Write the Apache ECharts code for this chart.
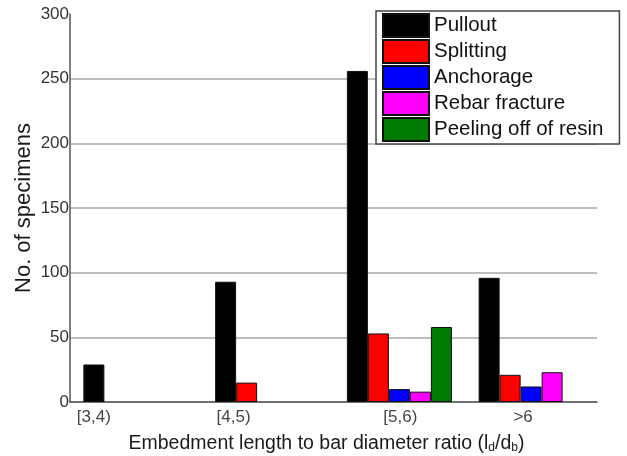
<!DOCTYPE html>
<html>
<head>
<meta charset="utf-8">
<script src="https://cdn.jsdelivr.net/npm/echarts@6/dist/echarts.min.js"></script>
<style>
  html, body { margin: 0; padding: 0; background: #fff; }
  #chart { width: 627px; height: 456px; }
</style>
</head>
<body>
<div id="chart"></div>
<script>
// Failure modes counted per embedment-length range
const categories = ['[3,4)', '[4,5)', '[5,6)', '>6'];
const seriesNames = ['Pullout', 'Splitting', 'Anchorage', 'Rebar fracture', 'Peeling off of resin'];
const pullout   = [29, 93, 256, 96];
const splitting = [0, 15, 53, 21];
const anchorage = [0, 0, 10, 12];
const fracture  = [0, 0, 8, 23];
const peeling   = [0, 0, 58, 0];
const yTicks = [0, 50, 100, 150, 200, 250, 300];

const seriesData = [pullout, splitting, anchorage, fracture, peeling];
const colors = ['#000000', '#ff0000', '#0000ff', '#ff00ff', '#007a00'];

// horizontal shift of each category label (px, negative = left)
const labelShift = [-42, -34, 1, -8];

const rich = {};
categories.forEach((c, i) => {
  const s = labelShift[i];
  rich['c' + i] = {
    fontSize: 17,
    color: '#444',
    fontFamily: 'Liberation Sans',
    padding: s < 0 ? [0, -2 * s, 0, 0] : [0, 0, 0, 2 * s]
  };
});

const chart = echarts.init(document.getElementById('chart'), null, { renderer: 'canvas' });

chart.setOption({
  backgroundColor: '#ffffff',
  animation: false,
  textStyle: { fontFamily: 'Liberation Sans' },
  grid: { left: 70, right: 30, top: 14, bottom: 54, containLabel: false, outerBoundsMode: 'none' },
  legend: {
    data: seriesNames,
    orient: 'vertical',
    left: 376,
    top: 11,
    itemWidth: 46,
    itemHeight: 23,
    itemGap: 1,
    icon: 'rect',
    padding: [2, 16, 2, 6],
    backgroundColor: '#ffffff',
    borderColor: '#444',
    borderWidth: 1.5,
    textStyle: { fontSize: 20.5, color: '#111', fontFamily: 'Liberation Sans' }
  },
  xAxis: {
    type: 'category',
    data: categories,
    axisTick: { show: false },
    axisLine: { lineStyle: { color: '#555', width: 1.5 } },
    axisLabel: {
      margin: 7,
      interval: 0,
      formatter: (v, i) => '{c' + i + '|' + v + '}',
      rich: rich
    },
    name: 'Embedment length to bar diameter ratio (l{sub|d}/d{sub|b})',
    nameLocation: 'middle',
    nameGap: 31,
    nameMoveOverlap: false,
    nameTextStyle: {
      fontSize: 19.5,
      color: '#1a1a1a',
      fontFamily: 'Liberation Sans',
      padding: [0, 14, 0, 0],
      rich: {
        sub: { fontSize: 12, color: '#1a1a1a', fontFamily: 'Liberation Sans', padding: [9, 0, 0, 0] }
      }
    }
  },
  yAxis: {
    type: 'value',
    min: yTicks[0],
    max: yTicks[yTicks.length - 1],
    interval: 50,
    axisTick: { show: false },
    axisLine: { show: true, lineStyle: { color: '#555', width: 1.5 } },
    axisLabel: { fontSize: 17, color: '#333', margin: 1, fontFamily: 'Liberation Sans' },
    splitLine: { show: true, showMaxLine: false, lineStyle: { color: '#a8a8a8', width: 1.5 } },
    name: 'No. of specimens',
    nameLocation: 'middle',
    nameGap: 35,
    nameMoveOverlap: false,
    nameTextStyle: { fontSize: 22, color: '#1a1a1a', fontFamily: 'Liberation Sans' }
  },
  series: seriesNames.map((name, k) => ({
    name: name,
    type: 'bar',
    // empty slots keep their place in the group but draw no outline
    data: seriesData[k].map(v => (v === 0 ? { value: v, itemStyle: { borderWidth: 0 } } : v)),
    barWidth: 21,
    barGap: '0%',
    itemStyle: { color: colors[k], borderColor: '#111', borderWidth: 1 }
  }))
});
</script>
</body>
</html>
